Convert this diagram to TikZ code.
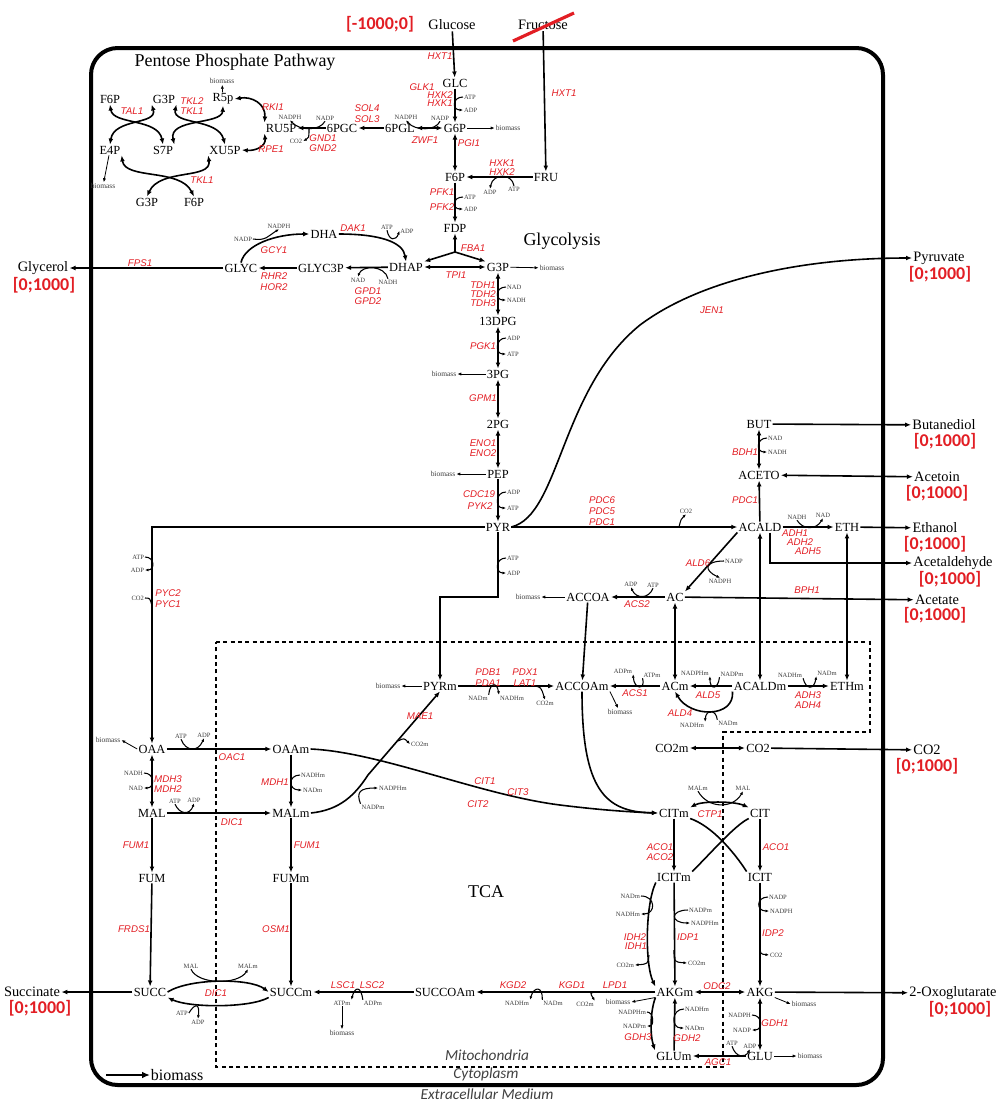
\documentclass[tikz,border=0pt]{standalone}
\usepackage{fontspec}
\setmainfont{Liberation Serif}
\setsansfont{Liberation Sans}
\newfontfamily\calfont{Carlito}
\usetikzlibrary{arrows.meta}

\definecolor{enzred}{RGB}{226,30,36}
\definecolor{cofgray}{RGB}{60,60,60}

\tikzset{
  met/.style={inner sep=0.8pt, font=\fontsize{9.3}{10}\selectfont},
  extmet/.style={inner sep=0.8pt, font=\fontsize{10.8}{12}\selectfont},
  enz/.style={inner sep=0pt, text=enzred, font=\sffamily\itshape\fontsize{7.3}{8}\selectfont},
  cof/.style={inner sep=0.6pt, text=cofgray, font=\fontsize{4.9}{5}\selectfont},
  bio/.style={inner sep=0.6pt, text=cofgray, font=\fontsize{5.6}{6}\selectfont},
  bound/.style={inner sep=0pt, text=enzred, font=\calfont\bfseries\fontsize{13.5}{14}\selectfont},
  region/.style={font=\fontsize{13.5}{15}\selectfont},
  compart/.style={text=black!75, font=\calfont\itshape\fontsize{11.5}{13}\selectfont},
  rxn/.style={line width=1.2pt, -{Latex[length=4.5pt,width=3.6pt]}},
  rev/.style={line width=1.2pt, {Latex[length=4.5pt,width=3.6pt]}-{Latex[length=4.5pt,width=3.6pt]}},
  hk/.style={line width=0.8pt, -{Latex[length=2.6pt,width=2.2pt]}},
  hk0/.style={line width=0.8pt},
  bm/.style={line width=0.6pt, -{Latex[length=3pt,width=2.4pt]}}
}

\begin{document}
\begin{tikzpicture}[x=0.75pt, y=-0.75pt]
\useasboundingbox (0,0) rectangle (997,1101);

% compartments
\draw[line width=3pt, rounded corners=20pt] (91,48) rectangle (883,1085);
\draw[dash pattern=on 3pt off 2.5pt, line width=0.8pt]
  (216,642) -- (870,642) -- (870,732) -- (723,732) -- (723,1067) -- (216,1067) -- cycle;

\node[region] (pppt) at (235,62) {Pentose Phosphate Pathway};
\node[region] (glyt) at (562,241) {Glycolysis};
\node[region] (tcat) at (486,892) {TCA};
\node[compart] (mito) at (487,1055) {Mitochondria};
\node[compart] (cyto) at (486,1074) {Cytoplasm};
\node[compart] (extra) at (487,1094) {Extracellular Medium};

\coordinate (legtail) at (106,1075);
\node[anchor=west, inner sep=0.5pt, font=\fontsize{12}{14}\selectfont] (legbio) at (150,1075) {biomass};
\draw[line width=2pt, -{Latex[length=6pt,width=5pt]}] (legtail) -- (legbio.west);

% exchange metabolites
\node[extmet] (glucose) at (452,25) {Glucose};
\node[extmet] (fructose) at (543,25) {Fructose};
\node[bound] (bglc) at (380,24) {[-1000;0]};
\coordinate (strikea) at (513,41);
\coordinate (strikeb) at (574,13);
\draw[enzred, line width=2.4pt] (strikea) -- (strikeb);
\node[extmet] (glycerol) at (43,268) {Glycerol};
\node[bound] (bgly) at (44,285) {[0;1000]};
\node[extmet] (pyruvate) at (939,258) {Pyruvate};
\node[bound] (bpyr) at (940,274) {[0;1000]};
\node[extmet] (butanediol) at (944,425) {Butanediol};
\node[bound] (bbut) at (945,441) {[0;1000]};
\node[extmet] (acetoin) at (937,477) {Acetoin};
\node[bound] (bacn) at (937,493) {[0;1000]};
\node[extmet] (ethanol) at (935,528) {Ethanol};
\node[bound] (beth) at (935,544) {[0;1000]};
\node[extmet] (acetaldehyde) at (953,563) {Acetaldehyde};
\node[bound] (bacd) at (950,579) {[0;1000]};
\node[extmet] (acetate) at (937,600) {Acetate};
\node[bound] (bact) at (935,615) {[0;1000]};
\node[extmet] (co2ext) at (927,750) {CO2};
\node[bound] (bco2) at (927,766) {[0;1000]};
\node[extmet] (succinate) at (32,992) {Succinate};
\node[bound] (bsuc) at (40,1008) {[0;1000]};
\node[extmet] (oxoglut) at (953,993) {2-Oxoglutarate};
\node[bound] (bakg) at (960,1009) {[0;1000]};

% ---------- pentose phosphate pathway
\node[met] (f6pa) at (110,99) {F6P};
\node[met] (g3pa) at (164,99) {G3P};
\node[met] (r5p) at (223,99) {R5p};
\node[met] (e4p) at (110,150) {E4P};
\node[met] (s7p) at (163,150) {S7P};
\node[met] (xu5p) at (225,150) {XU5P};
\node[met] (g3pb) at (147,202) {G3P};
\node[met] (f6pb) at (194,202) {F6P};
\node[met] (ru5p) at (281,128) {RU5P};
\node[met] (pgc) at (342,128) {6PGC};
\node[met] (pgl) at (400,128) {6PGL};
\node[bio] (bmr5p) at (222,81) {biomass};
\node[bio] (bme4p) at (103,186) {biomass};

\draw[rev] (f6pa.south) .. controls (113,125) and (158,118) .. (s7p.north);
\draw[rev] (g3pa.south west) .. controls (158,125) and (114,118) .. (e4p.north);
\draw[rev] (g3pa.south east) .. controls (172,125) and (218,118) .. (xu5p.north);
\draw[rev] (r5p.south) .. controls (222,125) and (168,118) .. (s7p.north east);
\draw[rev] (e4p.south east) .. controls (125,180) and (180,168) .. (f6pb.north);
\draw[rev] (xu5p.south west) .. controls (212,180) and (160,168) .. (g3pb.north);
\draw[rev] (r5p.east) .. controls (252,96) and (266,104) .. (ru5p.north west);
\draw[rev] (ru5p.south west) .. controls (266,146) and (256,151) .. (xu5p.east);
\draw[bm] (r5p) -- (bmr5p);
\draw[bm] (e4p) -- (bme4p);
\draw[rxn] (pgc) -- (ru5p);
\draw[rxn] (pgl) -- (pgc);

\node[enz] (etal1) at (132,111) {TAL1};
\node[enz] (etkl2) at (192,101) {TKL2};
\node[enz] (etkl1a) at (192,111) {TKL1};
\node[enz] (etkl1b) at (202,180) {TKL1};
\node[enz] (erki1) at (273,107) {RKI1};
\node[enz] (erpe1) at (271,149) {RPE1};
\node[enz] (egnd1) at (323,138) {GND1};
\node[enz] (egnd2) at (323,148) {GND2};
\node[enz] (esol4) at (367,108) {SOL4};
\node[enz] (esol3) at (367,119) {SOL3};
\node[enz] (ezwf1) at (425,140) {ZWF1};

\node[cof] (gndnadp) at (325,118) {NADP};
\node[cof] (gndnadph) at (290,117) {NADPH};
\draw[hk] (gndnadp.south) .. controls (320,131) and (300,131) .. (gndnadph.south);
\coordinate (gndj) at (309,128);
\node[cof] (gndco2) at (296,141) {CO2};
\draw[hk] (gndj) .. controls (309,138) .. (gndco2.east);

% ---------- glycolysis
\node[met] (glc) at (455,83) {GLC};
\node[met] (g6p) at (455,128) {G6P};
\node[met] (f6p) at (455,177) {F6P};
\node[met] (fru) at (546,177) {FRU};
\node[met] (fdp) at (455,228) {FDP};
\node[met] (dhap) at (406,267) {DHAP};
\node[met] (g3p) at (498,267) {G3P};
\node[met] (dha) at (324,234) {DHA};
\node[met] (glyc3p) at (321,268) {GLYC3P};
\node[met] (glyc) at (241,268) {GLYC};
\node[met] (dpg) at (498,321) {13DPG};
\node[met] (pg3) at (498,374) {3PG};
\node[met] (pg2) at (498,424) {2PG};
\node[met] (pep) at (498,474) {PEP};
\node[met] (pyr) at (498,527) {PYR};
\node[bio] (bmg6p) at (508,128) {biomass};
\node[bio] (bmg3p) at (552,268) {biomass};
\node[bio] (bm3pg) at (444,374) {biomass};
\node[bio] (bmpep) at (443,474) {biomass};
\coordinate (fbaj) at (455,252);

\draw[rxn] (glucose) -- (glc);
\draw[rxn] (fructose) -- (fru);
\draw[rxn] (glc) -- (g6p);
\draw[rev] (g6p) -- (pgl);
\draw[bm] (g6p) -- (bmg6p);
\draw[rev] (g6p) -- (f6p);
\draw[rxn] (fru) -- (f6p);
\draw[rxn] (f6p) -- (fdp);
\draw[rxn] (fbaj) -- (fdp);
\draw[rxn] (fbaj) -- (dhap.north east);
\draw[rxn] (fbaj) -- (g3p.north west);
\draw[rev] (dhap) -- (g3p);
\draw[bm] (g3p) -- (bmg3p);
\draw[rxn] (dha.east) .. controls (380,234) and (403,242) .. (dhap.north);
\draw[rxn] (dhap) -- (glyc3p);
\draw[rxn] (glyc3p) -- (glyc);
\draw[rxn] (glyc.north) .. controls (245,245) and (275,234) .. (dha.west);
\draw[rxn] (glyc) -- (glycerol);
\draw[rev] (g3p) -- (dpg);
\draw[rev] (dpg) -- (pg3);
\draw[bm] (pg3) -- (bm3pg);
\draw[rev] (pg3) -- (pg2);
\draw[rev] (pg2) -- (pep);
\draw[bm] (pep) -- (bmpep);
\draw[rxn] (pep) -- (pyr);
\draw[rxn] (pyr.east) .. controls (560,515) and (560,390) .. (640,325)
  .. controls (700,280) and (800,258) .. (pyruvate.west);

\node[enz] (ehxt1a) at (440,56) {HXT1};
\node[enz] (ehxt1b) at (564,93) {HXT1};
\node[enz] (eglk1) at (422,87) {GLK1};
\node[enz] (ehxk2a) at (440,95) {HXK2};
\node[enz] (ehxk1a) at (440,103) {HXK1};
\node[enz] (epgi1) at (469,143) {PGI1};
\node[enz] (ehxk1b) at (502,163) {HXK1};
\node[enz] (ehxk2b) at (502,172) {HXK2};
\node[enz] (epfk1) at (442,192) {PFK1};
\node[enz] (epfk2) at (442,207) {PFK2};
\node[enz] (efba1) at (473,248) {FBA1};
\node[enz] (etpi1) at (456,275) {TPI1};
\node[enz] (edak1) at (353,228) {DAK1};
\node[enz] (egcy1) at (274,250) {GCY1};
\node[enz] (erhr2) at (274,276) {RHR2};
\node[enz] (ehor2) at (274,287) {HOR2};
\node[enz] (egpd1) at (368,291) {GPD1};
\node[enz] (egpd2) at (368,301) {GPD2};
\node[enz] (efps1) at (140,263) {FPS1};
\node[enz] (etdh1) at (483,285) {TDH1};
\node[enz] (etdh2) at (483,294) {TDH2};
\node[enz] (etdh3) at (483,303) {TDH3};
\node[enz] (epgk1) at (483,346) {PGK1};
\node[enz] (egpm1) at (483,398) {GPM1};
\node[enz] (eeno1) at (483,443) {ENO1};
\node[enz] (eeno2) at (483,453) {ENO2};
\node[enz] (ecdc19) at (479,494) {CDC19};
\node[enz] (epyk2) at (480,506) {PYK2};
\node[enz] (ejen1) at (712,310) {JEN1};

\node[cof, anchor=west] (glkatp) at (463,97) {ATP};
\node[cof, anchor=west] (glkadp) at (463,110) {ADP};
\draw[hk] (glkatp.west) .. controls (452,97) and (452,110) .. (glkadp.west);
\node[cof] (zwfnadp) at (440,118) {NADP};
\node[cof] (zwfnadph) at (406,117) {NADPH};
\draw[hk] (zwfnadp.south) .. controls (436,131) and (415,131) .. (zwfnadph.south);
\node[cof] (hxatp) at (514,189) {ATP};
\node[cof] (hxadp) at (490,192) {ADP};
\draw[hk] (hxatp.north) .. controls (512,173) and (493,173) .. (hxadp.north);
\node[cof, anchor=west] (pfkatp) at (463,197) {ATP};
\node[cof, anchor=west] (pfkadp) at (463,209) {ADP};
\draw[hk] (pfkatp.west) .. controls (452,197) and (452,209) .. (pfkadp.west);
\node[cof] (dakatp) at (387,227) {ATP};
\node[cof] (dakadp) at (407,231) {ADP};
\draw[hk] (dakatp.south) .. controls (389,241) and (396,241) .. (dakadp.west);
\node[cof] (gpdnad) at (358,280) {NAD};
\node[cof] (gpdnadh) at (388,282) {NADH};
\draw[hk] (gpdnadh.north) .. controls (385,265) and (362,265) .. (gpdnad.north);
\node[cof] (gcynadp) at (243,239) {NADP};
\node[cof] (gcynadph) at (279,226) {NADPH};
\draw[hk] (gcynadp.east) .. controls (266,241) and (268,236) .. (gcynadph.south);
\node[cof, anchor=west] (tdhnad) at (506,287) {NAD};
\node[cof, anchor=west] (tdhnadh) at (506,300) {NADH};
\draw[hk] (tdhnad.west) .. controls (495,287) and (495,300) .. (tdhnadh.west);
\node[cof, anchor=west] (pgkadp) at (506,338) {ADP};
\node[cof, anchor=west] (pgkatp) at (506,354) {ATP};
\draw[hk] (pgkadp.west) .. controls (495,338) and (495,354) .. (pgkatp.west);
\node[cof, anchor=west] (pykadp) at (506,492) {ADP};
\node[cof, anchor=west] (pykatp) at (506,508) {ATP};
\draw[hk] (pykadp.west) .. controls (495,492) and (495,508) .. (pykatp.west);

% ---------- fermentation side
\node[met] (but) at (759,424) {BUT};
\node[met] (aceto) at (759,475) {ACETO};
\node[met] (acald) at (760,527) {ACALD};
\node[met] (eth) at (847,527) {ETH};
\node[met] (ac) at (675,597) {AC};
\node[met] (accoa) at (588,597) {ACCOA};
\node[bio] (bmaccoa) at (528,597) {biomass};

\draw[rxn] (pyr) -- (acald);
\draw[rxn] (but) -- (butanediol);
\draw[rev] (but) -- (aceto);
\draw[rev] (aceto) -- (acetoin);
\draw[rxn] (acald) -- (aceto);
\draw[rxn] (acald) -- (eth);
\draw[rxn] (eth) -- (ethanol);
\draw[rxn] ([xshift=7.5pt]acald.south) |- (acetaldehyde.west);
\draw[rxn] (acald.south west) -- (ac.north east);
\draw[rxn] (ac) -- (acetate);
\draw[rxn] (ac) -- (accoa);
\draw[bm] (accoa) -- (bmaccoa);

\node[enz] (epdc6) at (602,500) {PDC6};
\node[enz] (epdc5) at (602,511) {PDC5};
\node[enz] (epdc1a) at (602,522) {PDC1};
\node[enz] (ebdh1) at (745,452) {BDH1};
\node[enz] (epdc1b) at (745,500) {PDC1};
\node[enz] (eadh1) at (795,533) {ADH1};
\node[enz] (eadh2) at (800,542) {ADH2};
\node[enz] (eadh5) at (808,551) {ADH5};
\node[enz] (eald6) at (698,563) {ALD6};
\node[enz] (ebph1) at (807,590) {BPH1};
\node[enz] (eacs2) at (637,604) {ACS2};

\coordinate (pdcj) at (679,527);
\node[cof] (pdcco2) at (686,511) {CO2};
\draw[hk] (pdcj) .. controls (681,519) .. (pdcco2.south);
\node[cof, anchor=west] (bdhnad) at (767,438) {NAD};
\node[cof, anchor=west] (bdhnadh) at (767,452) {NADH};
\draw[hk] (bdhnad.west) .. controls (756,438) and (756,452) .. (bdhnadh.west);
\node[cof] (adhnadh) at (797,517) {NADH};
\node[cof] (adhnad) at (823,515) {NAD};
\draw[hk] (adhnadh.south) .. controls (803,530) and (816,530) .. (adhnad.south);
\node[cof, anchor=west] (aldnadp) at (724,561) {NADP};
\node[cof] (aldnadph) at (720,581) {NADPH};
\draw[hk] (aldnadp.west) .. controls (705,561) and (703,570) .. (aldnadph.north);
\node[cof] (acsadp) at (631,584) {ADP};
\node[cof] (acsatp) at (653,585) {ATP};
\draw[hk] (acsatp.south) .. controls (649,599) and (636,599) .. (acsadp.south);

% ---------- mitochondrial pyruvate / acetate
\node[met] (pyrm) at (440,686) {PYRm};
\node[met] (accoam) at (582,686) {ACCOAm};
\node[met] (acm) at (675,686) {ACm};
\node[met] (acaldm) at (760,686) {ACALDm};
\node[met] (ethm) at (847,686) {ETHm};
\node[met] (co2m) at (672,748) {CO2m};
\node[met] (co2) at (758,748) {CO2};
\node[bio] (bmpyrm) at (388,686) {biomass};
\node[bio] (bmaccoam) at (620,712) {biomass};
\coordinate (pyrbend) at (498,597);

\draw[rxn] (pyr) -- (pyrbend) -| (pyrm);
\draw[bm] (pyrm) -- (bmpyrm);
\draw[rxn] (pyrm) -- (accoam);
\draw[rxn] (accoa) -- (accoam);
\draw[rxn] (acm) -- (accoam);
\draw[bm] (accoam.south east) -- (bmaccoam);
\draw[rev] (ac) -- (acm);
\draw[rev] (acald) -- (acaldm);
\draw[rev] (eth) -- (ethm);
\draw[rxn] (acaldm) -- (acm);
\draw[rxn] (acaldm.south west) .. controls (735,718) and (690,718) .. (acm.south);
\draw[rxn] (acaldm) -- (ethm);
\draw[rev] (co2m) -- (co2);
\draw[rxn] (co2) -- (co2ext);

\node[enz] (epdb1) at (488,672) {PDB1};
\node[enz] (epda1) at (488,683) {PDA1};
\node[enz] (epdx1) at (525,672) {PDX1};
\node[enz] (elat1) at (525,683) {LAT1};
\node[enz] (eacs1) at (635,693) {ACS1};
\node[enz] (eald5) at (708,695) {ALD5};
\node[enz] (eald4) at (680,713) {ALD4};
\node[enz] (eadh3) at (808,695) {ADH3};
\node[enz] (eadh4) at (808,705) {ADH4};

\node[cof, anchor=west] (ptatp) at (506,558) {ATP};
\node[cof, anchor=west] (ptadp) at (506,573) {ADP};
\draw[hk] (ptatp.west) .. controls (495,558) and (495,573) .. (ptadp.west);
\node[cof] (pdhnad) at (478,698) {NADm};
\node[cof] (pdhnadh) at (512,698) {NADHm};
\draw[hk] (pdhnad.north east) .. controls (490,682) and (497,682) .. (pdhnadh.north west);
\coordinate (pdhj) at (534,686);
\node[cof] (pdhco2) at (545,703) {CO2m};
\draw[hk] (pdhj) .. controls (541,687) .. (pdhco2.north);
\node[cof] (acs1adp) at (623,671) {ADPm};
\node[cof] (acs1atp) at (652,675) {ATPm};
\draw[hk] (acs1atp.south west) .. controls (646,690) and (634,690) .. (acs1adp.south east);
\node[cof] (ald5nadph) at (695,673) {NADPHm};
\node[cof] (ald5nadp) at (732,674) {NADPm};
\draw[hk] (ald5nadp.south west) .. controls (718,690) and (710,690) .. (ald5nadph.south east);
\node[cof] (ald4nadh) at (692,725) {NADHm};
\node[cof] (ald4nad) at (728,723) {NADm};
\draw[hk] (ald4nad.north west) .. controls (716,709) and (706,709) .. (ald4nadh.north east);
\node[cof] (adh3nadh) at (790,675) {NADHm};
\node[cof] (adh3nad) at (827,673) {NADm};
\draw[hk] (adh3nadh.south east) .. controls (806,690) and (814,690) .. (adh3nad.south west);

% ---------- anaplerosis and TCA
\node[met] (oaa) at (152,749) {OAA};
\node[met] (oaam) at (291,749) {OAAm};
\node[met] (mal) at (152,813) {MAL};
\node[met] (malm) at (291,813) {MALm};
\node[met] (fum) at (152,878) {FUM};
\node[met] (fumm) at (291,878) {FUMm};
\node[met] (succ) at (150,992) {SUCC};
\node[met] (succm) at (291,992) {SUCCm};
\node[met] (succoam) at (445,992) {SUCCOAm};
\node[met] (citm) at (674,813) {CITm};
\node[met] (cit) at (760,813) {CIT};
\node[met] (icitm) at (674,877) {ICITm};
\node[met] (icit) at (760,877) {ICIT};
\node[met] (akgm) at (675,992) {AKGm};
\node[met] (akg) at (760,992) {AKG};
\node[met] (glum) at (674,1056) {GLUm};
\node[met] (glu) at (760,1056) {GLU};
\node[bio] (bmoaa) at (108,740) {biomass};
\node[bio] (bmakgm) at (618,1002) {biomass};
\node[bio] (bmakg) at (804,1004) {biomass};
\node[bio] (bmglu) at (810,1056) {biomass};

\draw[rxn] (pyr.west) -| (oaa.north);
\draw[bm] (oaa.west) -- (bmoaa.east);
\draw[rxn] (oaa) -- (oaam);
\draw[rev] (oaa) -- (mal);
\draw[rxn] (mal) -- (malm);
\draw[rxn] (oaam) -- (malm);
\draw[rxn] (malm.east) .. controls (340,810) and (355,795) .. (368,775) -- (pyrm.south);
\draw[rxn] (oaam.east) .. controls (380,752) and (480,795) .. (560,805)
  .. controls (600,810) and (630,812) .. (citm.west);
\draw[rxn] (accoam.south) .. controls (582,790) and (605,812) .. (citm.west);
\draw[rxn] (mal) -- (fum);
\draw[rxn] (malm) -- (fumm);
\draw[rxn] (fum) -- (succ);
\draw[rxn] (fumm) -- (succm);
\draw[rxn] (succ) -- (succinate);
\draw[rxn] (succ.east) .. controls (190,978) and (250,978) .. (succm.west);
\draw[rxn] (succm.south west) .. controls (250,1008) and (190,1008) .. (succ.south east);
\draw[rxn] (succoam) -- (succm);
\draw[rxn] (akgm) -- (succoam);
\draw[bm] (akgm.south west) -- (bmakgm.east);
\draw[rev] (akgm) -- (akg);
\draw[rxn] (akg) -- (oxoglut);
\draw[bm] (akg.south east) -- (bmakg.west);
\draw[rev] (akg) -- (glu);
\draw[rxn] (glu) -- (glum);
\draw[bm] (glu) -- (bmglu);
\draw[rxn] (glum) -- (akgm);
\draw[rxn] (akgm.south west) .. controls (650,1012) and (650,1035) .. (glum.north west);
\draw[rxn] (icitm.south west) .. controls (645,905) and (645,965) .. (akgm.north west);
\draw[rxn] (icitm) -- (akgm);
\draw[rxn] (citm) -- (icitm);
\draw[rxn] (cit) -- (icit);
\draw[rxn] (icit) -- (akg);
\draw[rev] (citm.north east) .. controls (702,801) and (734,801) .. (cit.north west);
\draw[line width=1.2pt] (citm.south east) .. controls (712,826) and (734,852) .. (icit.north west);
\draw[line width=1.2pt] (cit.south west) .. controls (734,826) and (712,852) .. (icitm.north east);

\node[enz] (epyc2) at (168,593) {PYC2};
\node[enz] (epyc1) at (168,604) {PYC1};
\node[enz] (emae1) at (420,716) {MAE1};
\node[enz] (eoac1) at (232,757) {OAC1};
\node[enz] (emdh3) at (168,779) {MDH3};
\node[enz] (emdh2) at (168,789) {MDH2};
\node[enz] (emdh1) at (275,782) {MDH1};
\node[enz] (edic1a) at (232,822) {DIC1};
\node[enz] (ecit1) at (485,781) {CIT1};
\node[enz] (ecit3) at (518,792) {CIT3};
\node[enz] (ecit2) at (478,804) {CIT2};
\node[enz] (ectp1) at (710,814) {CTP1};
\node[enz] (eaco1a) at (660,847) {ACO1};
\node[enz] (eaco2) at (660,857) {ACO2};
\node[enz] (eaco1b) at (776,847) {ACO1};
\node[enz] (efum1a) at (136,845) {FUM1};
\node[enz] (efum1b) at (307,845) {FUM1};
\node[enz] (efrds1) at (134,929) {FRDS1};
\node[enz] (eosm1) at (276,929) {OSM1};
\node[enz] (eidh2) at (635,937) {IDH2};
\node[enz] (eidh1) at (636,946) {IDH1};
\node[enz] (eidp1) at (688,937) {IDP1};
\node[enz] (eidp2) at (773,933) {IDP2};
\node[enz] (edic1b) at (216,993) {DIC1};
\node[enz] (elsc1) at (343,985) {LSC1};
\node[enz] (elsc2) at (372,985) {LSC2};
\node[enz] (ekgd2) at (513,985) {KGD2};
\node[enz] (ekgd1) at (572,985) {KGD1};
\node[enz] (elpd1) at (615,985) {LPD1};
\node[enz] (eodc2) at (717,986) {ODC2};
\node[enz] (egdh3) at (638,1037) {GDH3};
\node[enz] (egdh2) at (687,1038) {GDH2};
\node[enz] (egdh1) at (775,1023) {GDH1};
\node[enz] (eagc1) at (718,1062) {AGC1};

\node[cof, anchor=east] (pycatp) at (145,557) {ATP};
\node[cof, anchor=east] (pycadp) at (145,570) {ADP};
\draw[hk] (pycatp.east) .. controls (155,557) and (155,570) .. (pycadp.east);
\node[cof, anchor=east] (pycco2) at (145,598) {CO2};
\coordinate (pycj) at (152,606);
\draw[hk0] (pycco2.east) .. controls (150,598) .. (pycj);
\node[cof] (oacatp) at (181,736) {ATP};
\node[cof] (oacadp) at (204,735) {ADP};
\draw[hk] (oacatp.south) .. controls (186,752) and (198,752) .. (oacadp.south);
\node[cof, anchor=east] (mdhnadh) at (144,773) {NADH};
\node[cof, anchor=east] (mdhnad) at (144,788) {NAD};
\draw[hk] (mdhnadh.east) .. controls (155,773) and (155,788) .. (mdhnad.east);
\node[cof] (dicatp) at (175,801) {ATP};
\node[cof] (dicadp) at (194,800) {ADP};
\draw[hk] (dicatp.south) .. controls (180,815) and (190,815) .. (dicadp.south);
\node[cof, anchor=west] (mdh1nadh) at (300,775) {NADHm};
\node[cof, anchor=west] (mdh1nad) at (302,790) {NADm};
\draw[hk] (mdh1nadh.west) .. controls (288,775) and (288,790) .. (mdh1nad.west);
\coordinate (maej) at (398,741);
\node[cof, anchor=west] (maeco2) at (410,744) {CO2m};
\draw[hk] (maej) .. controls (404,738) .. (maeco2.west);
\node[cof] (maenadp) at (373,807) {NADPm};
\node[cof, anchor=west] (maenadph) at (378,788) {NADPHm};
\draw[hk] (maenadp.north west) .. controls (356,792) and (360,788) .. (maenadph.west);
\node[cof] (dic2mal) at (191,966) {MAL};
\node[cof] (dic2malm) at (248,966) {MALm};
\draw[hk] (dic2mal.south) .. controls (198,985) and (238,985) .. (dic2malm.south);
\node[cof] (dic2atp) at (182,1013) {ATP};
\node[cof] (dic2adp) at (198,1022) {ADP};
\draw[hk] (dic2atp.east) .. controls (195,1003) and (200,1003) .. (dic2adp.north);
\node[cof] (ctpmalm) at (698,788) {MALm};
\node[cof] (ctpmal) at (743,788) {MAL};
\draw[hk] (ctpmalm.south) .. controls (708,809) and (733,809) .. (ctpmal.south);
\node[cof] (lscatp) at (342,1003) {ATPm};
\node[cof] (lscadp) at (373,1003) {ADPm};
\node[bio] (bmlsc) at (342,1033) {biomass};
\draw[hk] (lscadp.north west) .. controls (361,986) and (355,986) .. (lscatp.north east);
\draw[bm] (lscatp) -- (bmlsc);
\node[cof] (kgdnadh) at (517,1003) {NADHm};
\node[cof] (kgdnad) at (553,1003) {NADm};
\draw[hk] (kgdnad.north west) .. controls (543,986) and (534,986) .. (kgdnadh.north east);
\coordinate (kgdj) at (595,992);
\node[cof] (kgdco2) at (585,1004) {CO2m};
\draw[hk] (kgdj) .. controls (590,993) .. (kgdco2.north east);
\node[cof, anchor=east] (idhnad) at (641,896) {NADm};
\node[cof, anchor=east] (idhnadh) at (641,914) {NADHm};
\draw[hk] (idhnad.east) .. controls (656,896) and (656,914) .. (idhnadh.east);
\coordinate (idhj) at (649,955);
\node[cof, anchor=east] (idhco2) at (635,965) {CO2m};
\draw[hk] (idhj) .. controls (648,964) .. (idhco2.east);
\node[cof, anchor=west] (idpnadp) at (688,910) {NADPm};
\node[cof, anchor=west] (idpnadph) at (690,923) {NADPHm};
\draw[hk] (idpnadp.west) .. controls (670,910) and (670,923) .. (idpnadph.west);
\coordinate (idpj) at (674,950);
\node[cof, anchor=west] (idpco2) at (687,963) {CO2m};
\draw[hk] (idpj) .. controls (674,962) .. (idpco2.west);
\node[cof, anchor=west] (idp2nadp) at (768,897) {NADP};
\node[cof, anchor=west] (idp2nadph) at (769,911) {NADPH};
\draw[hk] (idp2nadp.west) .. controls (756,897) and (756,911) .. (idp2nadph.west);
\coordinate (idp2j) at (760,944);
\node[cof, anchor=west] (idp2co2) at (769,955) {CO2};
\draw[hk] (idp2j) .. controls (760,954) .. (idp2co2.west);
\node[cof, anchor=east] (gdh3nadph) at (647,1012) {NADPHm};
\node[cof, anchor=east] (gdh3nadp) at (647,1026) {NADPm};
\draw[hk] (gdh3nadph.east) .. controls (654,1012) and (654,1026) .. (gdh3nadp.east);
\node[cof, anchor=west] (gdh2nadh) at (684,1009) {NADHm};
\node[cof, anchor=west] (gdh2nad) at (684,1028) {NADm};
\draw[hk] (gdh2nadh.west) .. controls (671,1009) and (671,1028) .. (gdh2nad.west);
\node[cof, anchor=east] (gdh1nadph) at (752,1015) {NADPH};
\node[cof, anchor=east] (gdh1nadp) at (752,1030) {NADP};
\draw[hk] (gdh1nadph.east) .. controls (763,1015) and (763,1030) .. (gdh1nadp.east);
\node[cof] (agcatp) at (732,1043) {ATP};
\node[cof] (agcadp) at (750,1046) {ADP};
\draw[hk] (agcatp.south) .. controls (736,1058) and (745,1058) .. (agcadp.south);
\end{tikzpicture}
\end{document}
